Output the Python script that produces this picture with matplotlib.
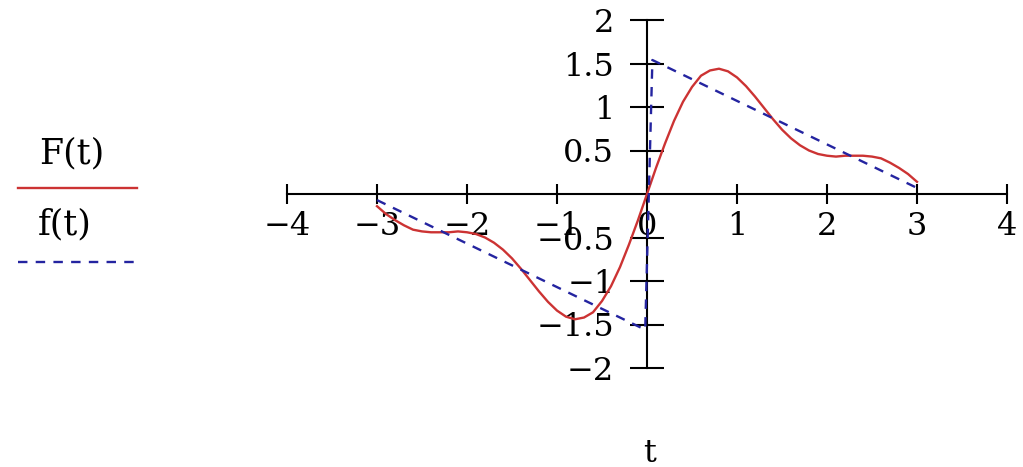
import matplotlib.pyplot as plt
from matplotlib.lines import Line2D

# Partial Fourier sum F(t), sampled every 0.1 on [-3, 3]
t_vals = [-3.0, -2.9, -2.8, -2.7, -2.6, -2.5, -2.4, -2.3, -2.2, -2.1, -2.0,
          -1.9, -1.8, -1.7, -1.6, -1.5, -1.4, -1.3, -1.2, -1.1, -1.0,
          -0.9, -0.8, -0.7, -0.6, -0.5, -0.4, -0.3, -0.2, -0.1, 0.0,
          0.1, 0.2, 0.3, 0.4, 0.5, 0.6, 0.7, 0.8, 0.9, 1.0,
          1.1, 1.2, 1.3, 1.4, 1.5, 1.6, 1.7, 1.8, 1.9, 2.0,
          2.1, 2.2, 2.3, 2.4, 2.5, 2.6, 2.7, 2.8, 2.9, 3.0]
F_vals = [-0.14, -0.23, -0.30, -0.36, -0.41, -0.43, -0.44, -0.44, -0.44, -0.43, -0.44,
          -0.46, -0.50, -0.56, -0.64, -0.74, -0.86, -0.99, -1.12, -1.24, -1.34,
          -1.41, -1.44, -1.42, -1.36, -1.23, -1.06, -0.84, -0.58, -0.30, 0.0,
          0.30, 0.58, 0.84, 1.06, 1.23, 1.36, 1.42, 1.44, 1.41, 1.34,
          1.24, 1.12, 0.99, 0.86, 0.74, 0.64, 0.56, 0.50, 0.46, 0.44,
          0.43, 0.44, 0.44, 0.44, 0.43, 0.41, 0.36, 0.30, 0.23, 0.14]

# Sawtooth f(t)
f_t = [-3.0, -0.02, 0.06, 3.0]
f_vals = [-0.07, -1.56, 1.54, 0.07]

x_ticks = [-4, -3, -2, -1, 0, 1, 2, 3, 4]
y_ticks = [-2, -1.5, -1, -0.5, 0.5, 1, 1.5, 2]
y_labels = ['\u22122', '\u22121.5', '\u22121', '\u22120.5', '0.5', '1', '1.5', '2']

red = '#cc3333'
blue = '#2424a0'
font = 'DejaVu Serif'
fs = 23

fig = plt.figure(figsize=(10.23, 4.67), dpi=100)
ax = fig.add_axes([287 / 1023, 99 / 467, 720 / 1023, 348 / 467])

ax.plot(t_vals, F_vals, color=red, lw=1.7, zorder=3)
ax.plot(f_t, f_vals, color=blue, lw=1.7, dashes=(4, 3.5), zorder=3)

ax.set_xlim(-4, 4)
ax.set_ylim(-2, 2)

# Axes crossing at the origin
ax.spines['left'].set_position(('data', 0))
ax.spines['bottom'].set_position(('data', 0))
ax.spines['top'].set_visible(False)
ax.spines['right'].set_visible(False)
for s in ('left', 'bottom'):
    ax.spines[s].set_linewidth(1.5)

ax.set_xticks(x_ticks)
ax.set_xticklabels([str(v).replace('-', '\u2212') for v in x_ticks], family=font, fontsize=fs)
ax.set_yticks(y_ticks)
ax.set_yticklabels(y_labels, family=font, fontsize=fs)
ax.tick_params(axis='x', direction='inout', length=14, width=1.5, pad=5)
ax.tick_params(axis='y', direction='inout', length=25, width=1.5, pad=11)
ax.patch.set_visible(False)

# Legend drawn by hand on the left
fig.text(72 / 1023, 1 - 153 / 467, 'F(t)', family=font, fontsize=25, ha='center', va='center')
fig.add_artist(Line2D([18 / 1023, 137 / 1023], [1 - 188 / 467] * 2, color=red, lw=1.7))
fig.text(65 / 1023, 1 - 224 / 467, 'f(t)', family=font, fontsize=25, ha='center', va='center')
fig.add_artist(Line2D([18 / 1023, 137 / 1023], [1 - 262 / 467] * 2, color=blue, lw=1.7, dashes=(4, 3.5)))

fig.text(650 / 1023, 1 - 453 / 467, 't', family=font, fontsize=fs, ha='center', va='center')

fig.savefig('out.png', dpi=100)
